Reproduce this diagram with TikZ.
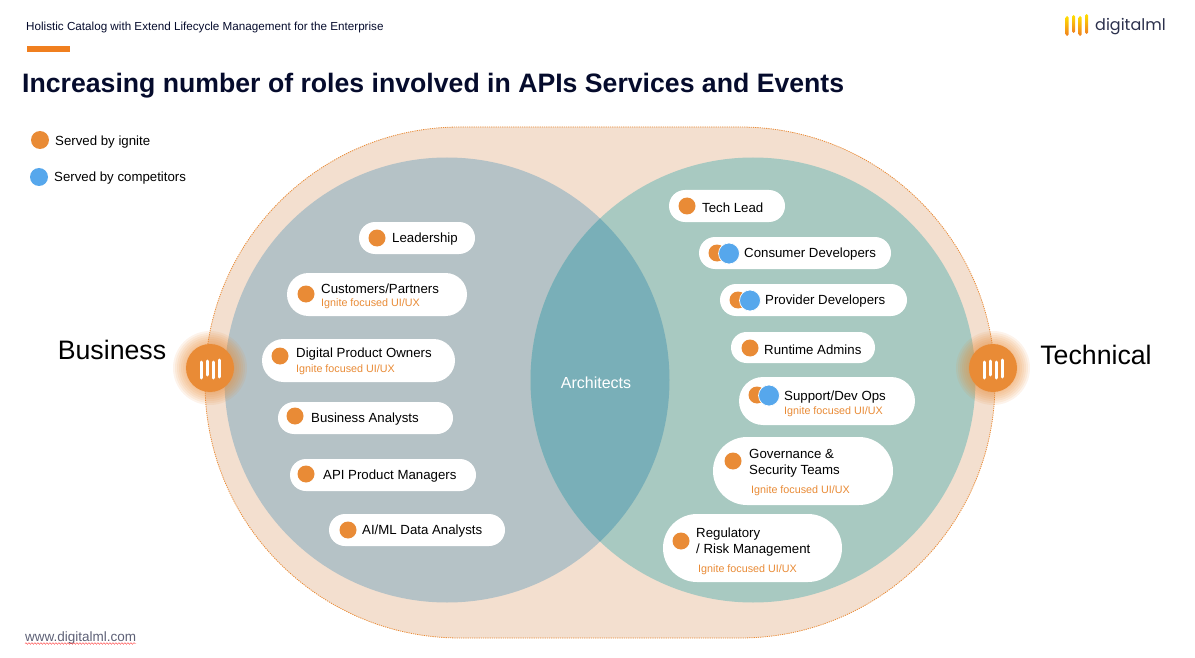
\documentclass[tikz,border=0pt]{standalone}
\usepackage{fontspec}
\setmainfont{Liberation Sans}
\newfontfamily\logofont{Poppins}
\usepackage{xcolor}
\usetikzlibrary{positioning,shapes.misc,decorations.pathmorphing}
\definecolor{ignite}{HTML}{E98B36}
\definecolor{rival}{HTML}{56A7EC}
\definecolor{barorange}{HTML}{F07F1F}
\definecolor{navy}{HTML}{050B2C}
\definecolor{sand}{HTML}{F3DFCF}
\definecolor{slate}{HTML}{B5C2C6}
\definecolor{sage}{HTML}{A8C9C1}
\definecolor{overlap}{HTML}{79AFB8}
\newcommand{\fsz}[1]{\fontsize{#1}{#1}\selectfont}

\begin{document}
\begin{tikzpicture}[x=1pt,y=-1pt]
  \tikzstyle{pill}=[rounded rectangle,fill=white,inner sep=0pt]
  \tikzstyle{servedby}=[circle,fill=ignite,inner sep=0pt,minimum size=17pt]
  \tikzstyle{rivaldot}=[circle,fill=rival,draw=white,line width=0.7pt,inner sep=0pt,minimum size=21pt]
  \tikzstyle{role}=[anchor=west,inner sep=0pt,align=left,yshift=-1.5pt,font=\fsz{13.25}]
  \tikzstyle{focus}=[anchor=west,inner sep=0pt,text=ignite,yshift=-2pt,font=\fsz{10.75}]
  \tikzstyle{side}=[inner sep=0pt,font=\fsz{26.7}]
  \tikzstyle{glyph}=[white,line width=3pt,line cap=round]
  \tikzstyle{logobar}=[top color=yellow!75!orange,bottom color=barorange,rounded corners=1.5pt]
  \useasboundingbox (0,0) rectangle (1195,658);

  % heading
  \node[anchor=west,inner sep=0pt,text=navy,font=\fsz{11.67}] (subtitle) at (26,27) {Holistic Catalog with Extend Lifecycle Management for the Enterprise};
  \fill[barorange] (27,46) rectangle (70,52);
  \node[anchor=west,inner sep=0pt,text=navy,font=\bfseries\fsz{26.65}] (title) at (22,86) {Increasing number of roles involved in APIs Services and Events};

  % logo
  \foreach \x/\ya/\yb in {1067/16/36,1073.5/15/33,1080/16/36,1086.5/14/34}
    \shade[logobar] (\x-1.5,\ya) rectangle (\x+1.5,\yb);
  \node[anchor=west,inner sep=0pt,text=navy!85,font=\logofont\fsz{16}] (logo) at (1095,27) {digitalml};

  % legend
  \node[servedby,minimum size=18pt] (igdot) at (40,140) {};
  \node[role] (iglabel) at (55,140.5) {Served by ignite};
  \node[circle,fill=rival,inner sep=0pt,minimum size=18pt] (rivalkey) at (39,177) {};
  \node[role] (rivallabel) at (54,177) {Served by competitors};

  % venn
  \draw[fill=sand,draw=ignite,dash pattern=on 1.2pt off 1pt,line width=0.8pt,rounded corners=255pt] (205,127) rectangle (995,638);
  \fill[slate] (447,380) circle (222.5);
  \fill[sage] (753,380) circle (222.5);
  \begin{scope}
    \clip (447,380) circle (222.5);
    \fill[overlap] (753,380) circle (222.5);
  \end{scope}
  \node[text=white,inner sep=0pt,font=\fsz{16}] (arch) at (596,382.5) {Architects};

  % badges
  \foreach \r in {37,35,33,31,29,27,25} {
    \fill[ignite,opacity=0.1] (210,368) circle (\r);
    \fill[ignite,opacity=0.1] (993,368) circle (\r);
  }
  \node[servedby,minimum size=48pt] (bizbadge) at (210,368) {};
  \node[servedby,minimum size=48pt] (techbadge) at (993,368) {};
  \foreach \cx in {210,993} {
    \draw[glyph] (\cx-8.5,362) -- (\cx-8.5,378);
    \draw[glyph] (\cx-2.8,361) -- (\cx-2.8,375);
    \draw[glyph] (\cx+3,362) -- (\cx+3,378);
    \draw[glyph] (\cx+9,360) -- (\cx+9,377);
  }
  \node[side] (biz) at (112,350) {Business};
  \node[side] (tech) at (1096,355) {Technical};

  % business roles
  \node[pill,minimum width=116pt,minimum height=32pt] (lead) at (417,238) {};
  \node[servedby] (leaddot) at (377,238) {};
  \node[role] at (392,238) (leadtxt) {Leadership};

  \node[pill,minimum width=180pt,minimum height=43pt] (cust) at (377,294.5) {};
  \node[servedby] (custdot) at (306,294) {};
  \node[role] at (321,287) (custtxt) {Customers/Partners};
  \node[focus] at (321,302) (custsub) {Ignite focused UI/UX};

  \node[pill,minimum width=193pt,minimum height=43pt] (owner) at (358.5,360.5) {};
  \node[servedby] (ownerdot) at (280,356) {};
  \node[role] at (296,353) (ownertxt) {Digital Product Owners};
  \node[focus] at (296,368) (ownersub) {Ignite focused UI/UX};

  \node[pill,minimum width=175pt,minimum height=32pt] (analyst) at (365.5,418) {};
  \node[servedby] (analystdot) at (295,416) {};
  \node[role] at (311,418) (analysttxt) {Business Analysts};

  \node[pill,minimum width=186pt,minimum height=32pt] (apipm) at (383,475) {};
  \node[servedby] (apipmdot) at (306,474) {};
  \node[role] at (323,475) (apipmtxt) {API Product Managers};

  \node[pill,minimum width=176pt,minimum height=32pt] (aiml) at (417,530) {};
  \node[servedby] (aimldot) at (348,530) {};
  \node[role] at (362,530) (aimltxt) {AI/ML Data Analysts};

  % technical roles
  \node[pill,minimum width=116pt,minimum height=32pt] (techlead) at (727,206) {};
  \node[servedby] (techleaddot) at (687,206) {};
  \node[role] at (702,206) (techleadtxt) {Tech Lead};

  \node[pill,minimum width=192pt,minimum height=32pt] (consumer) at (795,253) {};
  \node[servedby] (consumerdot) at (717,253) {};
  \node[rivaldot] (consumerriv) at (729,253.5) {};
  \node[role] at (744,253) (consumertxt) {Consumer Developers};

  \node[pill,minimum width=187pt,minimum height=32pt] (provider) at (813.5,300) {};
  \node[servedby] (providerdot) at (738,300) {};
  \node[rivaldot] (providerriv) at (750,300.5) {};
  \node[role] at (765,300) (providertxt) {Provider Developers};

  \node[pill,minimum width=144pt,minimum height=31pt] (runtime) at (803,347.5) {};
  \node[servedby] (runtimedot) at (750,348) {};
  \node[role] at (764,348) (runtimetxt) {Runtime Admins};

  \node[pill,minimum width=176pt,minimum height=48pt] (support) at (827,401) {};
  \node[servedby] (supportdot) at (757,395) {};
  \node[rivaldot] (supportriv) at (769,395.5) {};
  \node[role] at (784,396) (supporttxt) {Support/Dev Ops};
  \node[focus] at (784,410) (supportsub) {Ignite focused UI/UX};

  \node[pill,minimum width=180pt,minimum height=68pt] (gov) at (803,471) {};
  \node[servedby] (govdot) at (733,461) {};
  \node[role] at (749,462) (govtxt) {Governance \&\\[2.8pt]Security Teams};
  \node[focus] at (751,489) (govsub) {Ignite focused UI/UX};

  \node[pill,minimum width=179pt,minimum height=68pt] (reg) at (752.5,548) {};
  \node[servedby] (regdot) at (681,541) {};
  \node[role] at (696,541) (regtxt) {Regulatory\\[2.8pt]/ Risk Management};
  \node[focus] at (698,568) (regsub) {Ignite focused UI/UX};

  % footer
  \node[anchor=west,inner sep=0pt,text=navy!65,font=\fsz{13.5}] (web) at (25,638) {www.digitalml.com};
  \draw[red!80,line width=0.4pt,decorate,decoration={snake,amplitude=0.8pt,segment length=3pt}] (web.south west) ++(0,-1) -- ++(111,0);
\end{tikzpicture}
\end{document}
